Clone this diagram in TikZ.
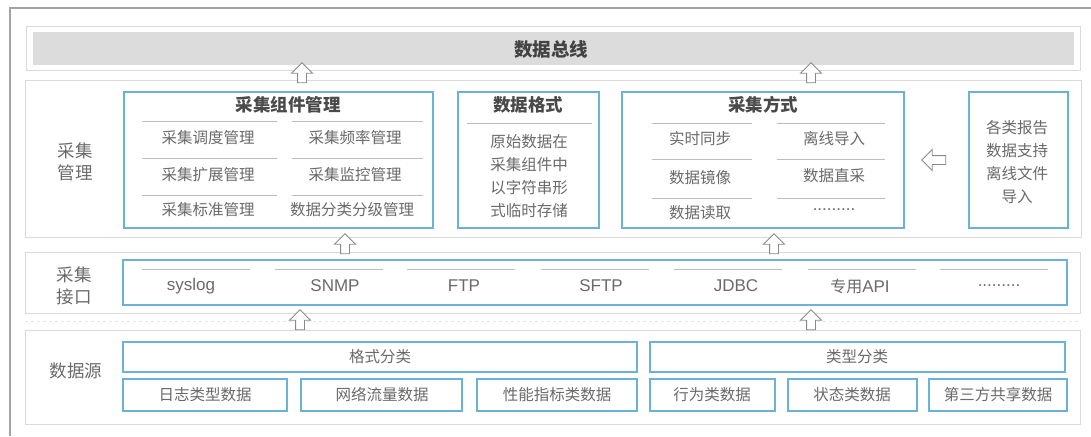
\documentclass[tikz,border=0pt]{standalone}
\usepackage{fontspec}
\setmainfont{Noto Sans CJK SC}
\newfontfamily\lat{Liberation Sans}
\usetikzlibrary{shapes.arrows}
\definecolor{bluebd}{HTML}{6AB2D6}
\definecolor{txt}{HTML}{6A6A6A}
\definecolor{ttl}{HTML}{4A4A4A}
\definecolor{layerbd}{HTML}{DADADA}
\definecolor{sepc}{HTML}{BDBDBD}
\definecolor{busfill}{HTML}{DCDCDC}
\definecolor{framec}{HTML}{A3A3A3}
\definecolor{arrc}{HTML}{8A8A8A}
\tikzset{
  layer/.style={draw=layerbd, line width=1pt},
  bbox/.style={draw=bluebd, line width=1.4pt},
  sepline/.style={draw=sepc, line width=1pt},
  body/.style={text=txt, font=\fontsize{15.5}{18}\selectfont, inner sep=0pt},
  multi/.style={text=txt, font=\fontsize{15.5}{23}\selectfont, align=center, inner sep=0pt},
  ttlt/.style={text=ttl, font=\fontsize{17.5}{20}\selectfont\bfseries, inner sep=0pt},
  lbl/.style={text=txt, font=\fontsize{17.5}{22}\selectfont, align=center, inner sep=0pt},
  latt/.style={text=txt, font=\fontsize{17}{20}\selectfont\lat, inner sep=0pt},
  dots/.style={text=txt, font=\fontsize{17}{18}\selectfont\lat, inner sep=0pt},
  uparr/.style={single arrow, draw=arrc, fill=white, line width=0.9pt,
    shape border rotate=90, minimum height=20pt, minimum width=20pt,
    single arrow head extend=6pt, inner sep=4pt, single arrow tip angle=90},
  leftarr/.style={uparr, shape border rotate=180, minimum height=24pt}
}
\begin{document}
\begin{tikzpicture}[x=1pt,y=-1pt]
\useasboundingbox (0,0) rectangle (1091,436);
\fill[white] (0,0) rectangle (1091,436);
% outer frame
\draw[framec, line width=1.5pt] (10,436) -- (10,8) -- (1091,8);

% bus
\draw[layer] (26,27) rectangle (1080,70);
\fill[busfill] (33,32) rectangle (1074,65);
\node[ttlt, font=\fontsize{18.5}{20}\selectfont\bfseries, text=ttl!90!black] (bus) at (551,49) {数据总线};

% layers
\draw[layer] (25,80) rectangle (1081,237);
\draw[layer] (25,252) rectangle (1080,313);
\draw[layer] (25,330) rectangle (1080,424);
\draw[layerbd!70, dashed, line width=0.8pt] (25,321) -- (1080,321);

\node[lbl] (l1) at (75,162) {采集\\管理};
\node[lbl] (l2) at (74,286) {采集\\接口};
\node[lbl] (l3) at (76,371) {数据源};

% component management
\draw[bbox] (124,92) rectangle (433,228);
\node[ttlt] (compT) at (288,105) {采集组件管理};
\foreach \y in {121,158,195}{
  \draw[sepline] (142,\y) -- (277,\y);
  \draw[sepline] (292,\y) -- (423,\y);
}
\node[body] (c1) at (208,138) {采集调度管理};
\node[body] (c2) at (355,138) {采集频率管理};
\node[body] (c3) at (208,175) {采集扩展管理};
\node[body] (c4) at (355,175) {采集监控管理};
\node[body] (c5) at (208,210) {采集标准管理};
\node[body] (c6) at (352,210) {数据分类分级管理};

% data format
\draw[bbox] (458,92) rectangle (599,228);
\node[ttlt] (fmtT) at (528,105) {数据格式};
\draw[sepline] (467,123) -- (592,123);
\node[multi] (fmt) at (529,176.5) {原始数据在\\采集组件中\\以字符串形\\式临时存储};

% collection methods
\draw[bbox] (622,92) rectangle (904,228);
\node[ttlt] (mT) at (763,105) {采集方式};
\foreach \y in {123,159,198}{
  \draw[sepline] (652,\y) -- (752,\y);
  \draw[sepline] (777,\y) -- (885,\y);
}
\node[body] (m1) at (700,139) {实时同步};
\node[body] (m2) at (834,139) {离线导入};
\node[body] (m3) at (700,178) {数据镜像};
\node[body] (m4) at (834,176) {数据直采};
\node[body] (m5) at (700,213) {数据读取};
\node[dots] (m6) at (834,210) {.........};

% reports
\draw[bbox] (969,92) rectangle (1068,228);
\node[multi] (rep) at (1017,162) {各类报告\\数据支持\\离线文件\\导入};
\node[leftarr] (al) at (936,160) {};

% interfaces
\draw[bbox] (123,260) rectangle (1067,305);
\foreach \a in {142,275,407,541,674,808,940}{
  \draw[sepline] (\a,269) -- ({\a+108},269);
}
\node[latt] (i1) at (191,286) {syslog};
\node[latt] (i2) at (335,286) {SNMP};
\node[latt] (i3) at (464,286) {FTP};
\node[latt] (i4) at (601,286) {SFTP};
\node[latt] (i5) at (736,286) {JDBC};
\node[latt] (i6) at (860,286) {{\fontsize{16}{18}\selectfont\rmfamily 专用}API};
\node[dots] (i7) at (999,286) {.........};

% sources
\draw[bbox] (123,342) rectangle (637,372);
\node[body] (s0) at (380,357) {格式分类};
\draw[bbox] (650,342) rectangle (1065,372);
\node[body] (t0) at (857,357) {类型分类};
\draw[bbox] (123,379) rectangle (287,411);
\node[body] (s1) at (205,395) {日志类型数据};
\draw[bbox] (301,379) rectangle (462,411);
\node[body] (s2) at (382,395) {网络流量数据};
\draw[bbox] (477,379) rectangle (637,411);
\node[body] (s3) at (557,395) {性能指标类数据};
\draw[bbox] (650,379) rectangle (775,411);
\node[body] (t1) at (712,395) {行为类数据};
\draw[bbox] (788,379) rectangle (917,411);
\node[body] (t2) at (852,395) {状态类数据};
\draw[bbox] (929,379) rectangle (1067,411);
\node[body] (t3) at (998,395) {第三方共享数据};

% up arrows
\node[uparr] (a1) at (302,75) {};
\node[uparr] (a2) at (811,75) {};
\node[uparr] (a3) at (345,246) {};
\node[uparr] (a4) at (774,246) {};
\node[uparr] (a5) at (300,322) {};
\node[uparr] (a6) at (811,322) {};
\end{tikzpicture}
\end{document}
